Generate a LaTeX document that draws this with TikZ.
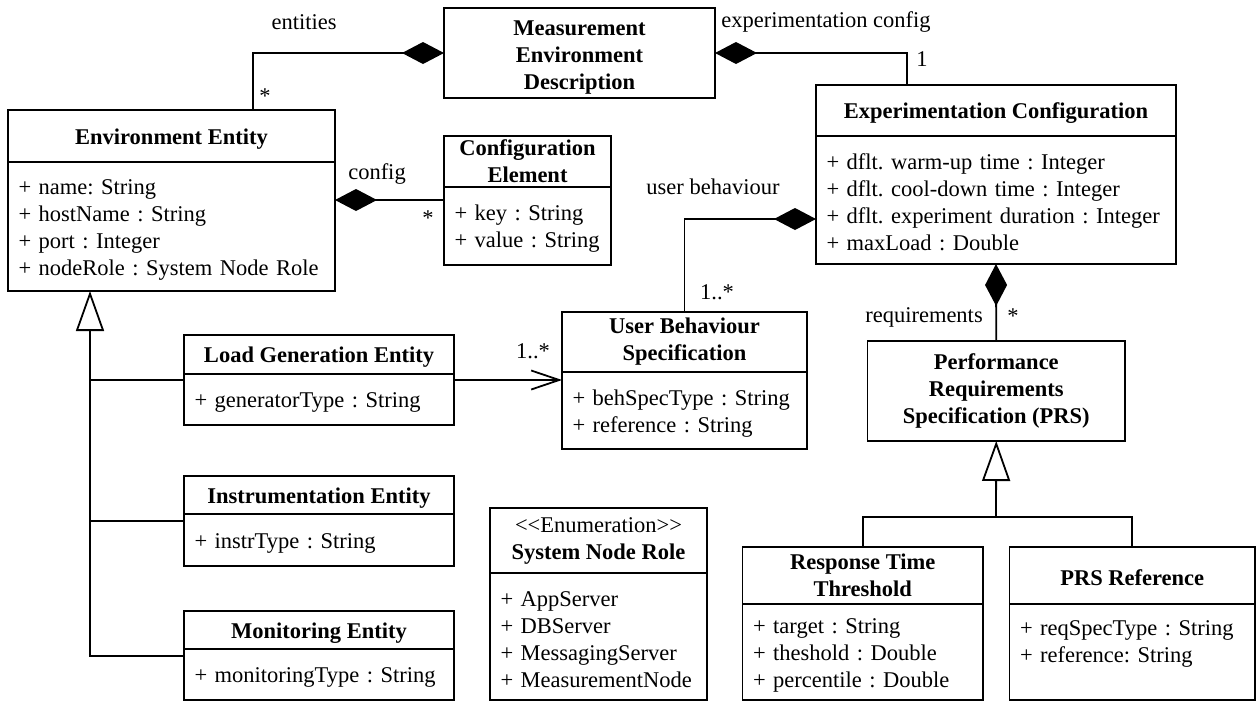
\documentclass[tikz,border=0pt]{standalone}
\usepackage{fontspec}
\setmainfont{Liberation Serif}
\usetikzlibrary{arrows.meta}
\frenchspacing
\begin{document}
\begin{tikzpicture}[x=1pt,y=-1pt,
  every node/.style={font=\fontsize{22.5}{27}\selectfont},
  box/.style={draw, line width=1.8pt, anchor=north west, inner sep=0pt, outer sep=0pt,
    execute at begin node={\rule{0pt}{21pt}}},
  hdr/.style={box, font=\fontsize{22.5}{27}\selectfont\bfseries, align=center},
  attrs/.style={box, align=left, inner xsep=10.5pt},
  lbl/.style={inner sep=0pt},
  conn/.style={line width=1.8pt},
  comp/.style={conn, -{Diamond[length=42pt,width=22pt]}},
  compS/.style={conn, {Diamond[length=42pt,width=22pt]}-},
  gen/.style={conn, -{Triangle[open,length=40pt,width=28pt,fill=white]}},
  nav/.style={conn, -{Straight Barb[length=28pt,width=19pt]}}
]
\useasboundingbox (0,0) rectangle (1256,702);

% classes
\node[hdr, minimum width=271pt, minimum height=90pt] (MED) at (444,8) {\rule{0pt}{23pt}Measurement\\Environment\\Description};

\node[hdr, minimum width=327pt, minimum height=52pt] (EE) at (8,110) {Environment Entity};
\node[attrs, text width=306pt, minimum height=129pt] (EEa) at (EE.south west) {+ name: String\\+ hostName : String\\+ port : Integer\\+ nodeRole : System Node Role};

\node[hdr, minimum width=167pt, minimum height=51pt] (CE) at (444,136) {Configuration\\Element};
\node[attrs, text width=146pt, minimum height=78pt] (CEa) at (CE.south west) {\mbox{+ key : String}\\\mbox{+ value : String}};

\node[hdr, minimum width=360pt, minimum height=51pt] (EC) at (816,85) {Experimentation Configuration};
\node[attrs, text width=339pt, minimum height=128pt] (ECa) at (EC.south west) {+ dflt. warm-up time : Integer\\+ dflt. cool-down time : Integer\\\mbox{+ dflt. experiment duration : Integer}\\+ maxLoad : Double};

\node[hdr, minimum width=270pt, minimum height=39pt] (LGE) at (184,335) {Load Generation Entity};
\node[attrs, text width=249pt, minimum height=51pt] (LGEa) at (LGE.south west) {+ generatorType : String};

\node[hdr, minimum width=270pt, minimum height=38pt] (IE) at (184,476) {Instrumentation Entity};
\node[attrs, text width=249pt, minimum height=52pt] (IEa) at (IE.south west) {+ instrType : String};

\node[hdr, minimum width=270pt, minimum height=38pt] (ME) at (184,611) {Monitoring Entity};
\node[attrs, text width=249pt, minimum height=51pt] (MEa) at (ME.south west) {+ monitoringType : String};

\node[hdr, minimum width=245pt, minimum height=60pt] (UBS) at (562,312) {User Behaviour\\Specification};
\node[attrs, text width=224pt, minimum height=77pt] (UBSa) at (UBS.south west) {+ behSpecType : String\\+ reference : String};

\node[hdr, minimum width=217pt, minimum height=65pt] (EN) at (490,508) {{\mdseries <\kern0pt<Enumeration>\kern0pt>}\\System Node Role};
\node[attrs, text width=196pt, minimum height=127pt] (ENa) at (EN.south west) {+ AppServer\\+ DBServer\\+ MessagingServer\\+ MeasurementNode};

\node[hdr, minimum width=257.5pt, minimum height=100pt] (PRS) at (867.5,341) {Performance\\Requirements\\Specification (PRS)};

\node[hdr, minimum width=240.5pt, minimum height=57pt] (RTT) at (742.5,547) {Response Time\\Threshold};
\node[attrs, text width=219.5pt, minimum height=96pt] (RTTa) at (RTT.south west) {+ target : String\\+ theshold : Double\\+ percentile : Double};

\node[hdr, minimum width=245.5pt, minimum height=57pt] (PRSR) at (1009.5,547) {PRS Reference};
\node[attrs, text width=224.5pt, minimum height=96pt] (PRSRa) at (PRSR.south west) {+ reqSpecType : String\\+ reference: String\\\mbox{}};

% helper coordinates
\coordinate (c1) at (253,0);
\coordinate (c2) at (907,0);
\coordinate (c3) at (0,200);
\coordinate (c4) at (0,219);
\coordinate (c5) at (0,380);
\coordinate (t1) at (90,380);
\coordinate (t2) at (90,521);
\coordinate (t3) at (90,656);
\coordinate (j) at (996,517);

% connectors
\draw[compS] (MED.west) -| (EE.north -| c1);
\draw[compS] (MED.east) -| (EC.north -| c2);
\draw[comp] (CE.west |- c3) -- (EE.east |- c3);
\draw[compS] (EC.west |- c4) -| (UBS.north);
\draw[nav] (LGEa.east |- c5) -- (UBS.west |- c5);
\draw[compS] (ECa.south) -- (PRS.north);

\draw[gen] (MEa.west |- t3) -- (t3) -- (EEa.south -| t3);
\draw[conn] (LGEa.west |- t1) -- (t1);
\draw[conn] (IEa.west |- t2) -- (t2);

\draw[conn] (RTT.north) |- (j) -| (PRSR.north);
\draw[gen] (j) -- (PRS.south);

% labels
\node[lbl] (l1) at (304,22) {entities};
\node[lbl] (l2) at (265,96) {*};
\node[lbl] (l3) at (826,22) {experimentation config};
\node[lbl] (l4) at (922,59) {1};
\node[lbl] (l5) at (377,174) {config};
\node[lbl] (l6) at (428,218) {*};
\node[lbl] (l7) at (713,187) {user behaviour};
\node[lbl] (l8) at (717,292) {1..*};
\node[lbl] (l9) at (533,351) {1..*};
\node[lbl] (l10) at (924,317) {requirements};
\node[lbl] (l11) at (1013,316) {*};
\end{tikzpicture}
\end{document}
